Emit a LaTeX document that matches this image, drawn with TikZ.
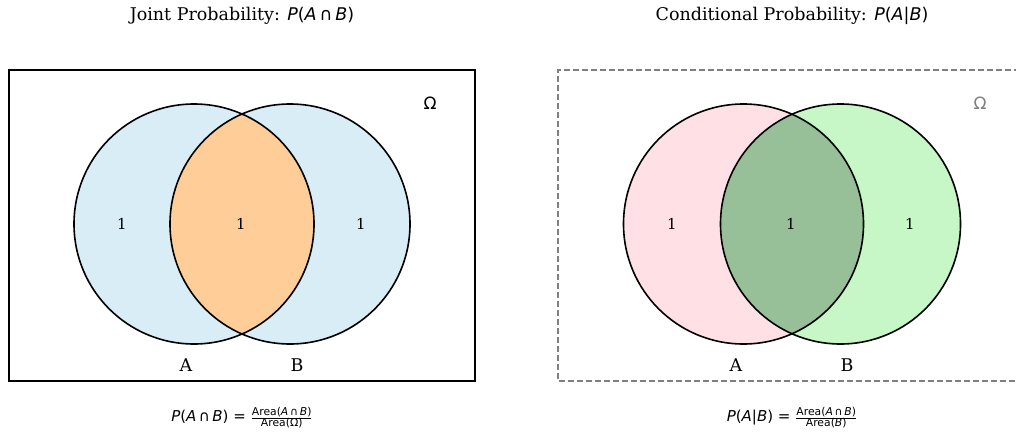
\documentclass[tikz,border=0pt]{standalone}
\usepackage{fontspec}
\setmainfont{DejaVu Serif}
\newfontfamily\msans{DejaVu Sans}
\newcommand{\mi}[1]{{\msans\itshape #1}}
\definecolor{lblue}{RGB}{216,237,246}
\definecolor{lorange}{RGB}{255,206,152}
\definecolor{lpink}{RGB}{255,225,229}
\definecolor{lgreen}{RGB}{199,246,199}
\definecolor{dgreen}{RGB}{152,192,152}
\definecolor{omgray}{RGB}{128,128,128}
\tikzset{
  circ/.style={draw=black, line width=1.6pt},
  numlbl/.style={font=\fontsize{15}{18}\selectfont, inner sep=0pt},
  setlbl/.style={font=\fontsize{17.5}{20}\selectfont, inner sep=0pt},
  ttl/.style={font=\fontsize{17.5}{20}\selectfont, inner sep=0pt},
  frm/.style={font=\fontsize{15}{18}\selectfont\msans, inner sep=0pt},
  omg/.style={font=\fontsize{17}{20}\selectfont\msans, inner sep=0pt}
}
\newcommand{\fsm}{\fontsize{10.8}{12}\selectfont}
\begin{document}
\begin{tikzpicture}[x=1pt,y=-1pt]
\useasboundingbox (0,0) rectangle (1016,434);
% ---------- left panel ----------
\node[ttl] (t1) at (242,16) {Joint Probability: \mi{P}{\msans(}\mi{A}{\msans\,∩\,}\mi{B}{\msans)}};
\node[draw=black, line width=1.5pt, minimum width=466pt, minimum height=311pt, inner sep=0pt] (omegaL) at (242,225.5) {};
\fill[lblue] (194,224) circle (120);
\fill[lblue] (290,224) circle (120);
\begin{scope}
\clip (194,224) circle (120);
\fill[lorange] (290,224) circle (120);
\end{scope}
\node[circ, circle, minimum size=240pt, inner sep=0pt] (AL) at (194,224) {};
\node[circ, circle, minimum size=240pt, inner sep=0pt] (BL) at (290,224) {};
\node[numlbl] (l1) at (122,224) {1};
\node[numlbl] (l2) at (241,224) {1};
\node[numlbl] (l3) at (361,224) {1};
\node[setlbl] (la) at (186,365) {A};
\node[setlbl] (lb) at (297,365) {B};
\node[omg] (lom) at (430,103) {Ω};
\node[frm] (f1) at (242,418) {\mi{P}(\mi{A}\,∩\,\mi{B}) = $\frac{\hbox{\fsm Area(\mi{A}\,∩\,\mi{B})}}{\hbox{\fsm Area(Ω)}}$};
% ---------- right panel ----------
\node[ttl] (t2) at (792,16) {Conditional Probability: \mi{P}{\msans(}\mi{A}{\msans|}\mi{B}{\msans)}};
\draw[omgray, line width=1.4pt, dash pattern=on 6pt off 3pt] (1020,70) -- (558,70) -- (558,381) -- (1020,381);
\fill[lpink] (743.5,224) circle (120);
\fill[lgreen] (840.5,224) circle (120);
\begin{scope}
\clip (743.5,224) circle (120);
\fill[dgreen] (840.5,224) circle (120);
\end{scope}
\node[circ, circle, minimum size=240pt, inner sep=0pt] (AR) at (743.5,224) {};
\node[circ, circle, minimum size=240pt, inner sep=0pt] (BR) at (840.5,224) {};
\node[numlbl] (r1) at (672,224) {1};
\node[numlbl] (r2) at (791,224) {1};
\node[numlbl] (r3) at (910,224) {1};
\node[setlbl] (ra) at (736,365) {A};
\node[setlbl] (rb) at (847,365) {B};
\node[omg, text=omgray] (rom) at (980,103) {Ω};
\node[frm] (f2) at (792,418) {\mi{P}(\mi{A}|\mi{B}) = $\frac{\hbox{\fsm Area(\mi{A}\,∩\,\mi{B})}}{\hbox{\fsm Area(\mi{B})}}$};
\end{tikzpicture}
\end{document}
